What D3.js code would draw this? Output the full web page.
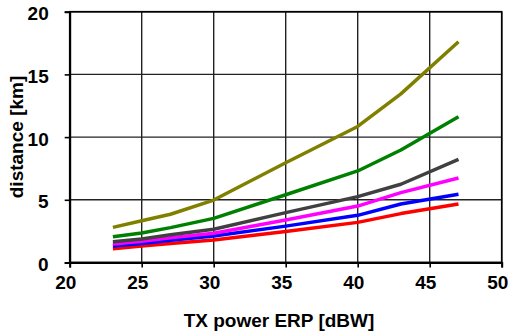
<!DOCTYPE html>
<html>
<head>
<meta charset="utf-8">
<script src="https://cdn.jsdelivr.net/npm/d3@7"></script>
<style>
  body { margin: 0; background: #fff; }
  svg text { font-family: "Liberation Sans", Arial, sans-serif; font-weight: bold; fill: #000; }
</style>
</head>
<body>
<svg id="chart"></svg>
<script>
// TX power values (dBW) where the curves are sampled
const power = [23, 25, 27, 30, 35, 40, 43, 47];

// distance in km, one array per curve
const olive   = [2.8, 3.33, 3.85, 4.98, 7.95, 10.85, 13.45, 17.6];
const green   = [2.06, 2.35, 2.78, 3.52, 5.4, 7.3, 8.97, 11.63];
const gray    = [1.66, 1.88, 2.22, 2.65, 3.98, 5.25, 6.24, 8.23];
const magenta = [1.47, 1.7, 1.98, 2.33, 3.39, 4.5, 5.57, 6.74];
const blue    = [1.31, 1.52, 1.78, 2.11, 2.9, 3.76, 4.67, 5.44];
const red     = [1.1, 1.32, 1.52, 1.79, 2.48, 3.2, 3.9, 4.67];

const series = [
    { values: red, color: "#ff0000" },
    { values: blue, color: "#0000ff" },
    { values: magenta, color: "#ff00ff" },
    { values: gray, color: "#404040" },
    { values: green, color: "#008000" },
    { values: olive, color: "#808000" }
];

const xTicks = [20, 25, 30, 35, 40, 45, 50];
const yTicks = [0, 5, 10, 15, 20];

// canvas
const canvWidth = 510;
const canvHeight = 336;
const margin = { top: 11.7, right: 8.3, bottom: 73.5, left: 69.7 };
const width = canvWidth - margin.left - margin.right;
const height = canvHeight - margin.top - margin.bottom;

const svg = d3.select("#chart")
    .attr("width", canvWidth)
    .attr("height", canvHeight);

const g = svg.append("g")
    .attr("transform", "translate(" + margin.left + "," + margin.top + ")");

// scales
const x = d3.scaleLinear().domain([20, 50]).range([0, width]);
const y = d3.scaleLinear().domain([0, 20]).range([height, 0]);

// grid lines
g.append("g")
    .selectAll("line")
    .data(xTicks)
    .enter().append("line")
    .attr("x1", d => x(d)).attr("x2", d => x(d))
    .attr("y1", 0).attr("y2", height)
    .attr("stroke", "#222").attr("stroke-width", 1.4);

g.append("g")
    .selectAll("line")
    .data(yTicks)
    .enter().append("line")
    .attr("x1", 0).attr("x2", width)
    .attr("y1", d => y(d)).attr("y2", d => y(d))
    .attr("stroke", "#222").attr("stroke-width", 1.4);

// plot frame
g.append("rect")
    .attr("width", width).attr("height", height)
    .attr("fill", "none").attr("stroke", "#000").attr("stroke-width", 1.6);

// x axis
const xAxis = g.append("g")
    .attr("transform", "translate(0," + height + ")")
    .call(d3.axisBottom(x).tickValues(xTicks).tickSize(5).tickPadding(8));
xAxis.select(".domain").attr("stroke-width", 2);
xAxis.selectAll(".tick line").attr("stroke-width", 1.6);
xAxis.selectAll(".tick text")
    .attr("font-size", 19).attr("dx", -4.5).attr("dy", "0.72em")
    .style("font-family", "Liberation Sans, Arial, sans-serif").style("font-weight", "bold");

// y axis
const yAxis = g.append("g")
    .call(d3.axisLeft(y).tickValues(yTicks).tickSize(5).tickPadding(16));
yAxis.select(".domain").attr("stroke-width", 2);
yAxis.selectAll(".tick line").attr("stroke-width", 1.6);
yAxis.selectAll(".tick text")
    .attr("font-size", 19).attr("dy", "0.42em")
    .style("font-family", "Liberation Sans, Arial, sans-serif").style("font-weight", "bold");

// curves
const line = d3.line()
    .x((d, i) => x(power[i]))
    .y(d => y(d));

g.selectAll(".curve")
    .data(series)
    .enter().append("path")
    .attr("class", "curve")
    .attr("d", d => line(d.values))
    .attr("fill", "none")
    .attr("stroke", d => d.color)
    .attr("stroke-width", 3.5)
    .attr("stroke-linejoin", "round");

// axis titles
svg.append("text")
    .attr("x", 279).attr("y", 327)
    .attr("text-anchor", "middle")
    .attr("font-size", 19)
    .text("TX power ERP [dBW]");

svg.append("text")
    .attr("transform", "translate(23,137) rotate(-90)")
    .attr("text-anchor", "middle")
    .attr("font-size", 19)
    .text("distance [km]");
</script>
</body>
</html>
